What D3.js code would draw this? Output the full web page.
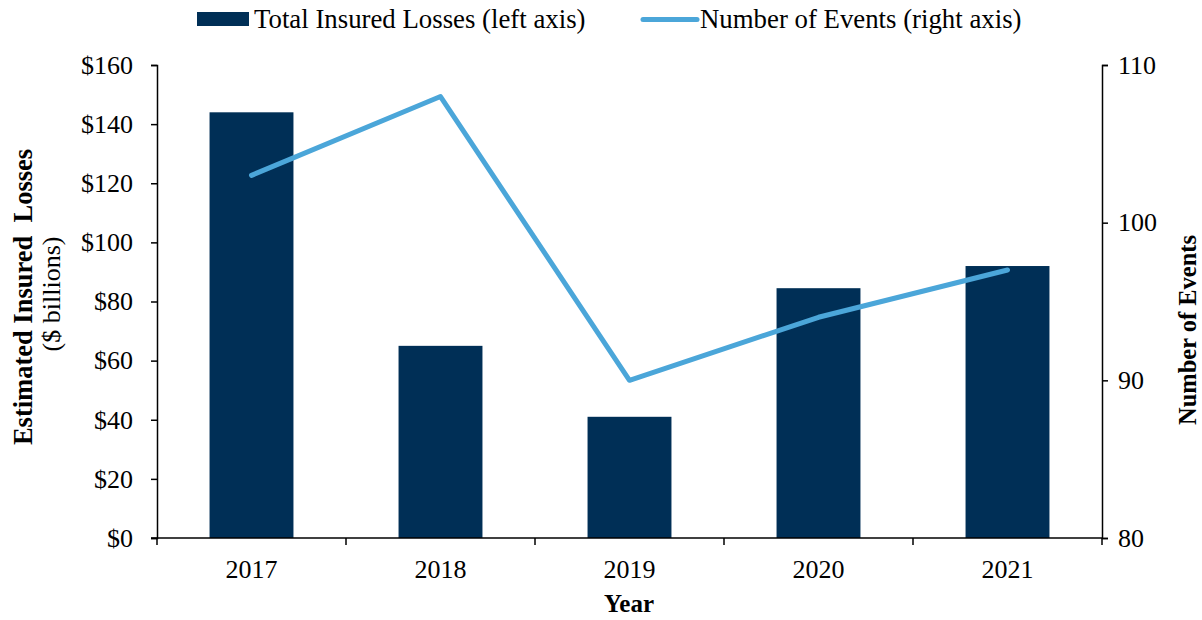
<!DOCTYPE html>
<html>
<head>
  <meta charset="utf-8">
  <title>Insured Losses and Events</title>
  <script src="https://d3js.org/d3.v7.min.js"></script>
  <style>
    body { margin: 0; background: #fff; }
    svg text { font-family: "Liberation Serif", "Times New Roman", serif; fill: #000; }
    .axis path, .axis line { stroke: #000; stroke-width: 1.5px; }
    .axis text { font-size: 26px; }
    .title { font-size: 25px; font-weight: bold; }
  </style>
</head>
<body>
  <svg id="chart" width="1202" height="620"></svg>
  <script>
    // data
    var years = ["2017", "2018", "2019", "2020", "2021"];
    var losses = [144, 65, 41, 84.5, 92];     // $ billions, left axis
    var events = [103, 108, 90, 94, 97];       // count, right axis
    var lossTicks = [0, 20, 40, 60, 80, 100, 120, 140, 160];
    var eventTicks = [80, 90, 100, 110];

    var barColor = "#002f56";
    var lineColor = "#4ba6d9";

    var svg = d3.select("#chart");
    var plotLeft = 157, plotRight = 1102, plotTop = 65, plotBottom = 538;

    var x = d3.scaleBand()
      .domain(years)
      .range([plotLeft, plotRight])
      .paddingInner(0.556)
      .paddingOuter(0.278);

    var yL = d3.scaleLinear().domain([0, 160]).range([plotBottom, plotTop]);
    var yR = d3.scaleLinear().domain([80, 110]).range([plotBottom, plotTop]);

    // bars
    svg.selectAll(".bar")
      .data(years)
      .enter().append("rect")
        .attr("class", "bar")
        .attr("x", function(d) { return x(d); })
        .attr("width", x.bandwidth())
        .attr("y", function(d, i) { return yL(losses[i]); })
        .attr("height", function(d, i) { return yL(0) - yL(losses[i]); })
        .attr("fill", barColor);

    // line
    var line = d3.line()
      .x(function(d, i) { return x(years[i]) + x.bandwidth() / 2; })
      .y(function(d) { return yR(d); });

    svg.append("path")
      .datum(events)
      .attr("d", line)
      .attr("fill", "none")
      .attr("stroke", lineColor)
      .attr("stroke-width", 5)
      .attr("stroke-linecap", "round")
      .attr("stroke-linejoin", "round");

    // left axis
    svg.append("g")
      .attr("class", "axis")
      .attr("transform", "translate(" + plotLeft + ",0)")
      .call(d3.axisLeft(yL).tickValues(lossTicks).tickSize(6).tickPadding(18)
        .tickFormat(function(d) { return "$" + d; }));

    // right axis
    svg.append("g")
      .attr("class", "axis")
      .attr("transform", "translate(" + plotRight + ",0)")
      .call(d3.axisRight(yR).tickValues(eventTicks).tickSize(6).tickPadding(10));

    // bottom axis, ticks between categories
    var xAxis = svg.append("g")
      .attr("class", "axis")
      .attr("transform", "translate(0," + plotBottom + ")");
    xAxis.append("line")
      .attr("x1", plotLeft - 6).attr("x2", plotRight)
      .attr("y1", 0).attr("y2", 0);
    var step = x.step();
    var edges = d3.range(years.length + 1).map(function(i) { return plotLeft + i * step; });
    xAxis.selectAll(".xt")
      .data(edges)
      .enter().append("line")
        .attr("x1", function(d) { return d; })
        .attr("x2", function(d) { return d; })
        .attr("y1", 0).attr("y2", 7);
    xAxis.selectAll(".xl")
      .data(years)
      .enter().append("text")
        .attr("x", function(d) { return x(d) + x.bandwidth() / 2; })
        .attr("y", 40)
        .attr("text-anchor", "middle")
        .text(function(d) { return d; });

    // axis titles
    svg.append("text")
      .attr("class", "title")
      .attr("x", 629).attr("y", 612)
      .attr("text-anchor", "middle")
      .text("Year");

    svg.append("text")
      .attr("class", "title")
      .attr("transform", "translate(32,297) rotate(-90)")
      .attr("text-anchor", "middle")
      .style("font-size", "26.5px")
      .attr("xml:space", "preserve")
      .text("Estimated Insured  Losses");

    svg.append("text")
      .attr("transform", "translate(60,294) rotate(-90)")
      .attr("text-anchor", "middle")
      .style("font-size", "26px")
      .text("($ billions)");

    svg.append("text")
      .attr("class", "title")
      .attr("transform", "translate(1196,330) rotate(-90)")
      .attr("text-anchor", "middle")
      .style("font-size", "24.5px")
      .text("Number of Events");

    // legend
    var lg = svg.append("g").style("font-size", "26.8px");
    lg.append("rect")
      .attr("x", 197).attr("y", 12).attr("width", 52).attr("height", 14)
      .attr("fill", barColor);
    lg.append("text").attr("x", 254).attr("y", 28).text("Total Insured Losses (left axis)");
    lg.append("line")
      .attr("x1", 643).attr("x2", 697).attr("y1", 19.5).attr("y2", 19.5)
      .attr("stroke", lineColor).attr("stroke-width", 5)
      .attr("stroke-linecap", "round");
    lg.append("text").attr("x", 700).attr("y", 28).text("Number of Events (right axis)");
  </script>
</body>
</html>
